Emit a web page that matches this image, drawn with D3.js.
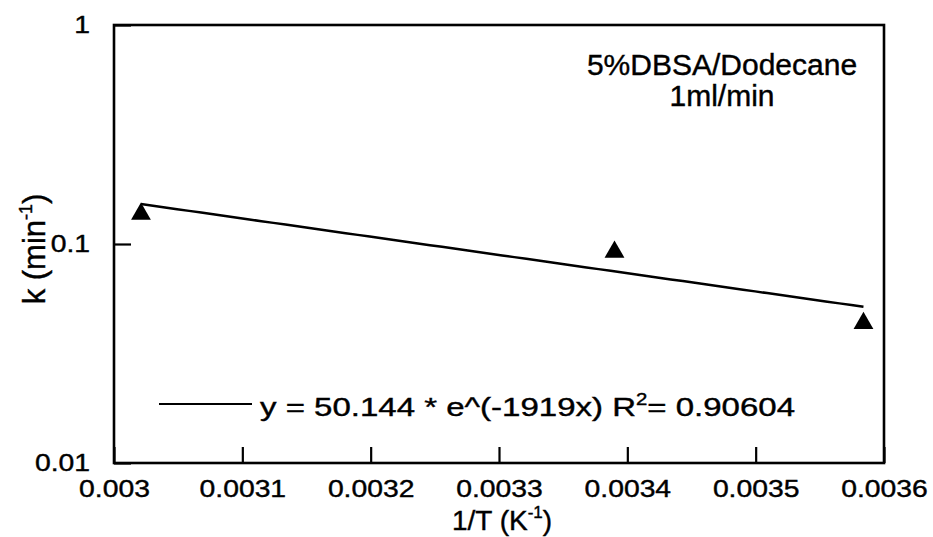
<!DOCTYPE html>
<html>
<head>
<meta charset="utf-8">
<script src="https://cdn.jsdelivr.net/npm/d3@7/dist/d3.min.js"></script>
<style>
  html, body { margin: 0; padding: 0; background: #fff; }
  svg { display: block; font-family: "Liberation Sans", Arial, Helvetica, sans-serif; }
  text { stroke: #000; stroke-width: 0.4px; }
</style>
</head>
<body>
<svg id="chart" width="933" height="537"></svg>
<script>
// Measured rate constants versus inverse temperature
const invT = [0.003021, 0.003390, 0.003584];
const rateK = [0.137, 0.092, 0.0435];

// Exponential fit  y = A * e^(B x)
const fitA = 50.144;
const fitB = -1919;
const fitR2 = "0.90604";

// Axis ticks and labels
const xMajor = [0.003, 0.0031, 0.0032, 0.0033, 0.0034, 0.0035, 0.0036];
const xLabels = ["0.003", "0.0031", "0.0032", "0.0033", "0.0034", "0.0035", "0.0036"];
const yMajor = [0.01, 0.1, 1];
const yLabels = ["0.01", "0.1", "1"];

const legendLines = ["5%DBSA/Dodecane", "1ml/min"];

const svg = d3.select("#chart");
const m = { left: 114, right: 884, top: 25, bottom: 463 };

const x = d3.scaleLinear().domain([0.003, 0.0036]).range([m.left, m.right]);
const y = d3.scaleLog().domain([0.01, 1]).range([m.bottom, m.top]);

// minor ticks: fifths on x, 2..9 per decade on y
const xMinor = [];
for (let i = 0; i < xMajor.length - 1; i++) {
  for (let j = 1; j < 5; j++) xMinor.push(xMajor[i] + j * 0.00002);
}
const yMinor = [];
[0.01, 0.1].forEach(dec => { for (let j = 2; j <= 9; j++) yMinor.push(dec * j); });

const stretch = 1.18;

// bottom axis
const gx = svg.append("g").attr("transform", `translate(0,${m.bottom})`);
gx.call(d3.axisBottom(x).tickValues(xMinor).tickSize(-8).tickFormat(""));
gx.call(d3.axisBottom(x).tickValues(xMajor).tickSize(-16).tickPadding(17)
  .tickFormat((d, i) => xLabels[i]));
gx.selectAll("path.domain").remove();
gx.selectAll("line").attr("stroke", "#000").attr("stroke-width", 2.2);
gx.selectAll("text").attr("fill", "#000").attr("font-size", 24)
  .attr("transform", `scale(${stretch},1)`);

// left axis
const gy = svg.append("g").attr("transform", `translate(${m.left},0)`);
gy.call(d3.axisLeft(y).tickValues(yMinor).tickSize(-9).tickFormat(""));
gy.call(d3.axisLeft(y).tickValues(yMajor).tickSize(-17).tickPadding(24)
  .tickFormat((d, i) => yLabels[i]));
gy.selectAll("path.domain").remove();
gy.selectAll("line").attr("stroke", "#000").attr("stroke-width", 2.2);
gy.selectAll("text").attr("fill", "#000").attr("font-size", 24)
  .each(function () {
    const t = d3.select(this);
    const tx = +t.attr("x");
    t.attr("x", 0).attr("transform", `translate(${tx},0) scale(${stretch},1)`);
  });

// plot frame
svg.append("rect")
  .attr("x", m.left).attr("y", m.top)
  .attr("width", m.right - m.left).attr("height", m.bottom - m.top)
  .attr("fill", "none").attr("stroke", "#000").attr("stroke-width", 2.6);

// fitted curve across the measured range
const xs = d3.range(0, 61).map(i => invT[0] + (invT[2] - invT[0]) * i / 60);
svg.append("path")
  .datum(xs)
  .attr("fill", "none").attr("stroke", "#000").attr("stroke-width", 2.5)
  .attr("d", d3.line().x(d => x(d)).y(d => y(fitA * Math.exp(fitB * d))));

// data points
svg.selectAll("path.pt")
  .data(invT)
  .join("path")
  .attr("class", "pt")
  .attr("transform", (d, i) => `translate(${x(d)},${y(rateK[i])})`)
  .attr("d", d3.symbol().type(d3.symbolTriangle).size(170))
  .attr("fill", "#000");

// fit legend
svg.append("line")
  .attr("x1", 159).attr("x2", 252).attr("y1", 404).attr("y2", 404)
  .attr("stroke", "#000").attr("stroke-width", 2.2);
const eq = svg.append("text")
  .attr("transform", "translate(260,416) scale(1.27,1)")
  .attr("font-size", 26).attr("fill", "#000");
eq.append("tspan").text(`y = ${fitA} * e^(${fitB}x) R`);
eq.append("tspan").attr("font-size", 16).attr("dy", -11).text("2");
eq.append("tspan").attr("dy", 11).text(`= ${fitR2}`);

// condition label
svg.selectAll("text.cond")
  .data(legendLines)
  .join("text")
  .attr("class", "cond")
  .attr("x", 722).attr("y", (d, i) => 75 + i * 31)
  .attr("text-anchor", "middle")
  .attr("font-size", 30).attr("fill", "#000")
  .text(d => d);

// axis titles
const xt = svg.append("text")
  .attr("x", 502).attr("y", 530)
  .attr("text-anchor", "middle")
  .attr("font-size", 28).attr("fill", "#000");
xt.append("tspan").text("1/T (K");
xt.append("tspan").attr("font-size", 17).attr("dy", -12).text("-1");
xt.append("tspan").attr("dy", 12).text(")");

const yt = svg.append("text")
  .attr("transform", "translate(45,249) rotate(-90)")
  .attr("text-anchor", "middle")
  .attr("font-size", 31).attr("fill", "#000");
yt.append("tspan").text("k (min");
yt.append("tspan").attr("font-size", 18).attr("dy", -13).text("-1");
yt.append("tspan").attr("dy", 13).text(")");
</script>
</body>
</html>
